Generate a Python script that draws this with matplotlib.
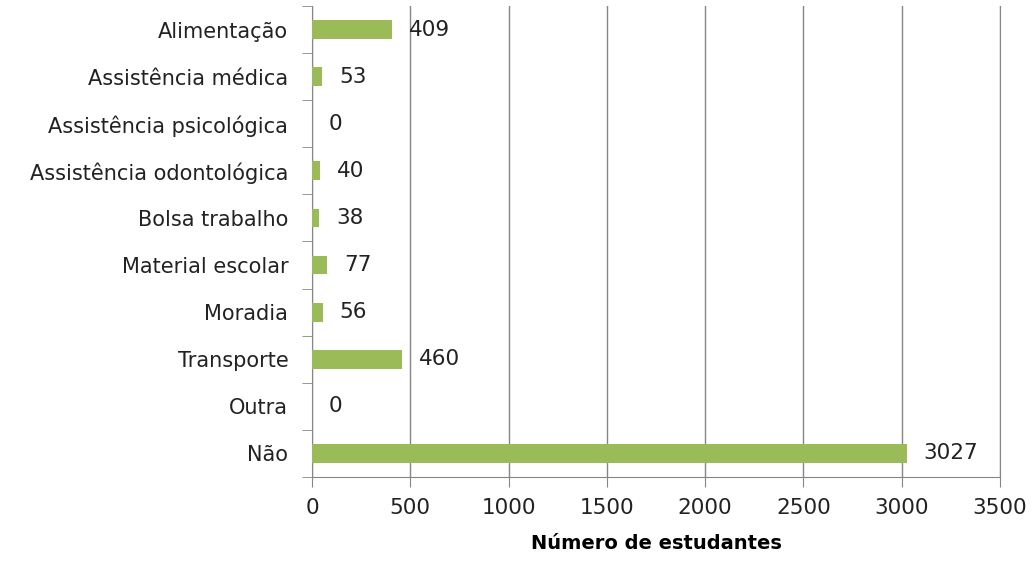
import matplotlib.pyplot as plt

# Dados
categorias = ["Alimentação", "Assistência médica", "Assistência psicológica",
              "Assistência odontológica", "Bolsa trabalho", "Material escolar",
              "Moradia", "Transporte", "Outra", "Não"]
estudantes = [409, 53, 0, 40, 38, 77, 56, 460, 0, 3027]
ticks_x = [0, 500, 1000, 1500, 2000, 2500, 3000, 3500]

plt.rcParams["font.family"] = ["DejaVu Sans"]

fig = plt.figure(figsize=(10.35, 5.63), dpi=100)
ax = fig.add_axes([0.3014, 0.1528, 0.6648, 0.8365])

pos = list(range(len(categorias)))
ax.barh(pos, estudantes, height=0.4, color="#9BBB59", zorder=3)

for p, v in zip(pos, estudantes):
    ax.annotate(str(v), (v, p), xytext=(12, 0), textcoords="offset points",
                va="center", ha="left", fontsize=15.5, color="#222222")

ax.set_xlim(0, 3500)
ax.set_ylim(len(categorias) - 0.5, -0.5)
ax.set_xticks(ticks_x)
ax.set_xticklabels([str(t) for t in ticks_x], fontsize=15.5)
ax.set_yticks(pos)
ax.set_yticklabels(categorias, fontsize=15, color="#222222")

# ticks entre categorias (estilo Excel)
ax.set_yticks([p - 0.5 for p in pos] + [len(categorias) - 0.5], minor=True)
ax.tick_params(axis="y", which="major", length=0, pad=17)
ax.tick_params(axis="y", which="minor", length=7, color="#868686")
ax.tick_params(axis="x", length=7, color="#868686", pad=8, labelcolor="#222222")

ax.grid(axis="x", color="#868686", linewidth=1, zorder=0)
ax.spines["top"].set_visible(False)
for s in ["left", "bottom", "right"]:
    ax.spines[s].set_color("#868686")

ax.set_xlabel("Número de estudantes", fontsize=14, fontweight="bold", labelpad=12)

fig.savefig("out.png", dpi=100)
